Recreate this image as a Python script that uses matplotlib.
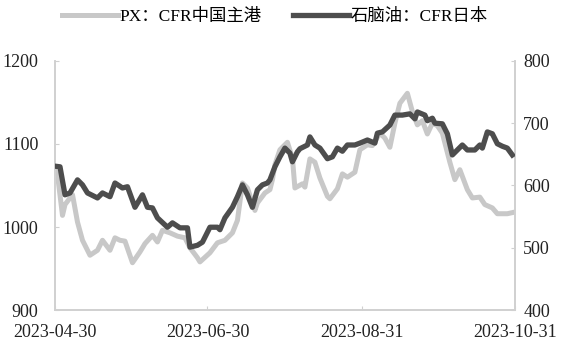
import pandas as pd
import matplotlib.pyplot as plt
import matplotlib.dates as mdates

plt.rcParams['font.family'] = ['Liberation Serif', 'Noto Sans CJK SC']

px_dates = ['2023-04-30', '2023-05-01', '2023-05-03', '2023-05-04', '2023-05-07', '2023-05-09',
            '2023-05-11', '2023-05-14', '2023-05-17', '2023-05-19', '2023-05-22', '2023-05-24',
            '2023-05-26', '2023-05-28', '2023-05-31', '2023-06-03', '2023-06-05', '2023-06-08',
            '2023-06-10', '2023-06-12', '2023-06-15', '2023-06-18', '2023-06-21', '2023-06-23',
            '2023-06-26', '2023-06-27', '2023-07-01', '2023-07-04', '2023-07-07', '2023-07-10',
            '2023-07-12', '2023-07-14', '2023-07-16', '2023-07-19', '2023-07-20', '2023-07-23',
            '2023-07-25', '2023-07-26', '2023-07-27', '2023-07-29', '2023-08-01', '2023-08-03',
            '2023-08-04', '2023-08-07', '2023-08-08', '2023-08-10', '2023-08-12', '2023-08-14',
            '2023-08-17', '2023-08-18', '2023-08-21', '2023-08-23', '2023-08-25', '2023-08-28',
            '2023-08-30', '2023-09-02', '2023-09-04', '2023-09-07', '2023-09-09', '2023-09-11',
            '2023-09-13', '2023-09-15', '2023-09-18', '2023-09-20', '2023-09-22', '2023-09-24',
            '2023-09-26', '2023-09-28', '2023-09-30', '2023-10-02', '2023-10-05', '2023-10-07',
            '2023-10-09', '2023-10-12', '2023-10-14', '2023-10-17', '2023-10-19', '2023-10-22',
            '2023-10-24', '2023-10-28', '2023-10-31']
px_values = [1069, 1063, 1014, 1027, 1039, 1006, 984, 966, 972, 984, 972, 987,
             984, 983, 957, 970, 980, 990, 982, 996, 993, 989, 987, 975,
             963, 958, 969, 981, 984, 993, 1008, 1053, 1047, 1020, 1029, 1041,
             1045, 1057, 1075, 1093, 1102, 1083, 1047, 1052, 1048, 1082, 1078, 1059,
             1037, 1034, 1046, 1064, 1060, 1066, 1093, 1099, 1098, 1113, 1107, 1096,
             1125, 1149, 1161, 1139, 1123, 1128, 1112, 1125, 1122, 1113, 1078, 1057,
             1069, 1045, 1035, 1036, 1027, 1023, 1016, 1016, 1018]

naphtha_dates = ['2023-04-30', '2023-05-02', '2023-05-04', '2023-05-06', '2023-05-09', '2023-05-11',
                 '2023-05-13', '2023-05-17', '2023-05-19', '2023-05-22', '2023-05-24', '2023-05-27',
                 '2023-05-29', '2023-06-01', '2023-06-04', '2023-06-06', '2023-06-08', '2023-06-10',
                 '2023-06-14', '2023-06-16', '2023-06-19', '2023-06-22', '2023-06-23', '2023-06-26',
                 '2023-06-28', '2023-07-01', '2023-07-04', '2023-07-05', '2023-07-07', '2023-07-10',
                 '2023-07-12', '2023-07-14', '2023-07-16', '2023-07-18', '2023-07-20', '2023-07-22',
                 '2023-07-24', '2023-07-25', '2023-07-27', '2023-07-29', '2023-07-31', '2023-08-02',
                 '2023-08-03', '2023-08-05', '2023-08-06', '2023-08-09', '2023-08-10', '2023-08-12',
                 '2023-08-14', '2023-08-17', '2023-08-19', '2023-08-21', '2023-08-23', '2023-08-25',
                 '2023-08-28', '2023-08-30', '2023-09-02', '2023-09-05', '2023-09-06', '2023-09-08',
                 '2023-09-11', '2023-09-13', '2023-09-16', '2023-09-19', '2023-09-21', '2023-09-22',
                 '2023-09-25', '2023-09-26', '2023-09-28', '2023-09-29', '2023-10-02', '2023-10-04',
                 '2023-10-06', '2023-10-08', '2023-10-10', '2023-10-12', '2023-10-15', '2023-10-17',
                 '2023-10-18', '2023-10-20', '2023-10-22', '2023-10-24', '2023-10-26', '2023-10-28',
                 '2023-10-30']
naphtha_values = [631, 630, 585, 588, 609, 601, 588, 580, 588, 582, 604, 596,
                  598, 565, 585, 565, 564, 548, 533, 540, 532, 532, 501, 504,
                  509, 533, 533, 529, 548, 565, 582, 601, 585, 565, 593, 601,
                  604, 609, 630, 646, 660, 652, 638, 654, 659, 665, 678, 665,
                  660, 643, 646, 660, 655, 665, 665, 668, 673, 668, 684, 686,
                  697, 713, 713, 715, 707, 718, 713, 704, 708, 700, 699, 683,
                  649, 657, 665, 657, 657, 665, 660, 686, 683, 667, 663, 660,
                  649]

x_ticks = ['2023-04-30', '2023-06-30', '2023-08-31', '2023-10-31']
px_label = 'PX：CFR中国主港'
naphtha_label = '石脑油：CFR日本'

fig = plt.figure(figsize=(5.67, 3.48), dpi=100)
ax = fig.add_axes([0.097, 0.109, 0.811, 0.716])
ax2 = ax.twinx()

l1, = ax.plot(pd.to_datetime(px_dates), px_values, color='#c8c8c8', lw=3.6,
              solid_joinstyle='round', label=px_label, zorder=2)
l2, = ax2.plot(pd.to_datetime(naphtha_dates), naphtha_values, color='#4d4d4d', lw=3.8,
               solid_joinstyle='round', label=naphtha_label, zorder=3)

ax.set_xlim(pd.Timestamp('2023-04-30'), pd.Timestamp('2023-10-31'))
ax.set_ylim(900, 1200)
ax2.set_ylim(400, 800)
ax.set_yticks([900, 1000, 1100, 1200])
ax2.set_yticks([400, 500, 600, 700, 800])
ax.set_xticks(pd.to_datetime(x_ticks))
ax.xaxis.set_major_formatter(mdates.DateFormatter('%Y-%m-%d'))

for a in (ax, ax2):
    a.spines['top'].set_visible(False)
    for s in ('left', 'right', 'bottom'):
        a.spines[s].set_color('#d0d0d0')
        a.spines[s].set_linewidth(1.2)
    a.tick_params(direction='in', length=3, color='#d0d0d0', labelsize=13,
                  labelcolor='#222222')
ax.tick_params(axis='x', pad=10)
ax.tick_params(axis='y', pad=12)
ax2.tick_params(axis='y', pad=6)

fig.legend(handles=[l1, l2], loc='upper center', bbox_to_anchor=(0.485, 1.02), ncol=2,
           frameon=False, fontsize=12.5, handlelength=3.2, handletextpad=0.1,
           columnspacing=1.8)

fig.savefig('out.png', dpi=100)
